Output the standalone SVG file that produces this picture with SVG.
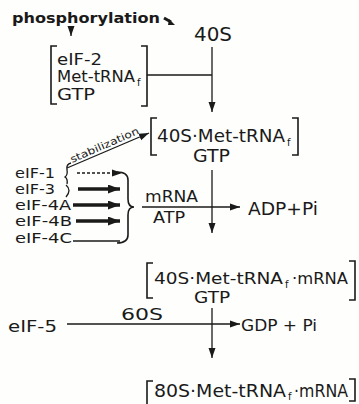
<svg xmlns="http://www.w3.org/2000/svg" width="359" height="404" viewBox="0 0 359 404">
<defs>
<style>
text{font-family:"DejaVu Sans","Liberation Sans",Arial,sans-serif;fill:#1a1a1a}
.t{font-size:16px}
.s{font-size:15px}
.f{font-size:14px}
.b{font-size:17px}
.sub{font-size:10px}
.ln{stroke:#1a1a1a;stroke-width:1.3;fill:none}
.br{stroke:#1a1a1a;stroke-width:1.6;fill:none}
.thick{stroke:#1a1a1a;stroke-width:3.5;fill:none}
</style>
<marker id="ah" markerUnits="userSpaceOnUse" markerWidth="10" markerHeight="8" refX="10" refY="4" orient="auto">
<path d="M0,0.5 L10,4 L0,7.5 z" fill="#1a1a1a"/>
</marker>
<marker id="ahb" markerUnits="userSpaceOnUse" markerWidth="12" markerHeight="9" refX="12" refY="4.5" orient="auto">
<path d="M0,0 L12,4.5 L0,9 z" fill="#1a1a1a"/>
</marker>
</defs>
<rect width="359" height="404" fill="#fefefc"/>

<g id="phosphorylation">
<text x="12" y="23" style="font-size:14px;font-weight:bold" textLength="148" lengthAdjust="spacingAndGlyphs">phosphorylation</text>
<path d="M164,18 L171,22" stroke="#1a1a1a" stroke-width="3"/>
<path d="M169,19 L175,25 L168,25 z" fill="#1a1a1a"/>
</g>

<g id="eIF2-complex">
<path class="br" d="M57,46 H51 V104 H57"/>
<path class="br" d="M141,46 H147 V106 H141"/>
<text class="s" x="57" y="65" textLength="45" lengthAdjust="spacingAndGlyphs">eIF-2</text>
<text class="s" x="57" y="82" textLength="78" lengthAdjust="spacingAndGlyphs">Met-tRNA</text>
<text class="sub" x="137" y="86">f</text>
<text class="s" x="57" y="100" textLength="38" lengthAdjust="spacingAndGlyphs">GTP</text>
</g>

<g id="n40S">
<text x="194" y="41" style="font-size:19px" textLength="38" lengthAdjust="spacingAndGlyphs">40S</text>
</g>

<g id="preinit-complex">
<path class="br" d="M157,118 H151 V155 H157"/>
<path class="br" d="M292,118 H298 V155 H292"/>
<text class="b" x="157" y="142" textLength="128" lengthAdjust="spacingAndGlyphs">40S·Met-tRNA</text>
<text class="sub" x="287" y="146">f</text>
<text class="b" x="193" y="162" textLength="37" lengthAdjust="spacingAndGlyphs">GTP</text>
</g>

<g id="factors">
<text class="f" x="15" y="178" textLength="40" lengthAdjust="spacingAndGlyphs">eIF-1</text>
<text class="f" x="15" y="194" textLength="40" lengthAdjust="spacingAndGlyphs">eIF-3</text>
<text class="f" x="15" y="210" textLength="56" lengthAdjust="spacingAndGlyphs">eIF-4A</text>
<text class="f" x="15" y="226" textLength="57" lengthAdjust="spacingAndGlyphs">eIF-4B</text>
<text class="f" x="15" y="243" textLength="57" lengthAdjust="spacingAndGlyphs">eIF-4C</text>
<path class="ln" d="M71,163 Q66,164 67,170 Q68,175 65,177 Q68,179 67,184"/>
<path class="ln" d="M66,185 Q72,190 66,197"/>
</g>

<g id="mrna-labels">
<text class="t" x="145" y="202" textLength="53" lengthAdjust="spacingAndGlyphs">mRNA</text>
<text class="t" x="153" y="223" textLength="32" lengthAdjust="spacingAndGlyphs">ATP</text>
</g>

<g id="adp">
<text class="b" x="248" y="215" textLength="70" lengthAdjust="spacingAndGlyphs">ADP+Pi</text>
</g>

<g id="init-complex">
<path class="br" d="M153,263 H147 V298 H153"/>
<path class="br" d="M349,261 H355 V300 H349"/>
<text class="s" x="154" y="284" textLength="129" lengthAdjust="spacingAndGlyphs">40S·Met-tRNA</text>
<text class="sub" x="285" y="288">f</text>
<text class="s" x="292" y="284" textLength="56" lengthAdjust="spacingAndGlyphs">·mRNA</text>
<text class="s" x="194" y="303" textLength="36" lengthAdjust="spacingAndGlyphs">GTP</text>
</g>

<g id="eIF5">
<text class="t" x="8" y="332" textLength="49" lengthAdjust="spacingAndGlyphs">eIF-5</text>
</g>

<g id="n60S">
<text x="121" y="320" style="font-size:15px" textLength="42" lengthAdjust="spacingAndGlyphs">60S</text>
</g>

<g id="gdp">
<text class="t" x="241" y="331" textLength="76" lengthAdjust="spacingAndGlyphs">GDP + Pi</text>
</g>

<g id="final-complex">
<path class="br" d="M153,381 H147 V404"/>
<path class="br" d="M349,379 H355 V401 H349"/>
<text class="b" x="154" y="397" textLength="132" lengthAdjust="spacingAndGlyphs">80S·Met-tRNA</text>
<text class="sub" x="288" y="400">f</text>
<text class="b" x="294" y="397" textLength="54" lengthAdjust="spacingAndGlyphs">·mRNA</text>
</g>

<g id="connectors">
<path class="ln" d="M71,28 V36" marker-end="url(#ah)"/>
<path class="ln" d="M147,75 H212"/>
<path class="ln" d="M212,47 V112" marker-end="url(#ah)"/>
<path class="ln" d="M67,168 L149,133" marker-end="url(#ah)"/>
<text transform="translate(72,163) rotate(-23.5)" style="font-size:10px" textLength="74" lengthAdjust="spacingAndGlyphs">stabilization</text>
<path class="ln" d="M77,173 H122" stroke-dasharray="3,2" marker-end="url(#ah)"/>
<path class="thick" d="M78,189 H120" marker-end="url(#ahb)"/>
<path class="thick" d="M73,205 H120" marker-end="url(#ahb)"/>
<path class="thick" d="M76,221 H120" marker-end="url(#ahb)"/>
<path class="ln" d="M73,241 H120"/>
<path class="br" d="M117,172 Q128,172 128,180 V199 Q128,207 134,207 Q128,207 128,215 V235 Q128,243 117,243"/>
<path class="ln" d="M142,207 H240" marker-end="url(#ah)"/>
<path class="ln" d="M212,170 V233" marker-end="url(#ah)"/>
<path class="ln" d="M67,324 H240" marker-end="url(#ah)"/>
<path class="ln" d="M212,308 V358" marker-end="url(#ah)"/>
</g>
</svg>
